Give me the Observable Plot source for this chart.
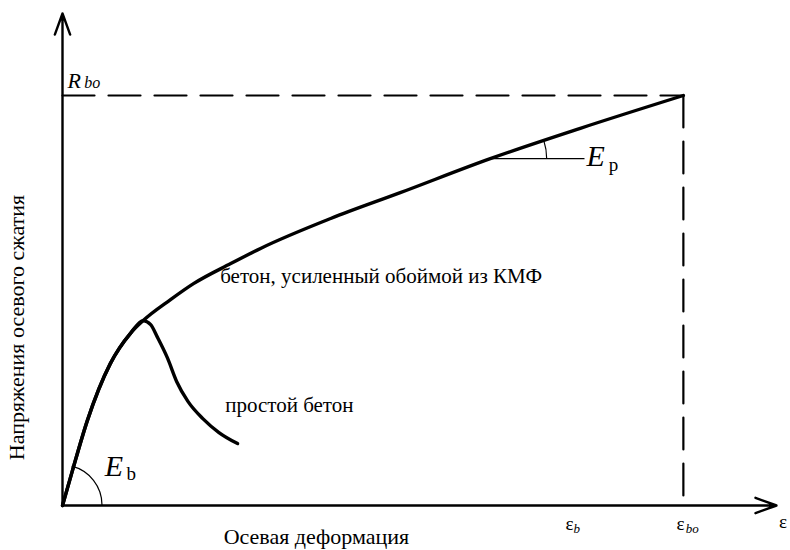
<!DOCTYPE html>
<html><head><meta charset="utf-8">
<script src="https://cdn.jsdelivr.net/npm/d3@7"></script>
<script src="https://cdn.jsdelivr.net/npm/@observablehq/plot@0.6"></script>
<style>body{margin:0;background:#fff} g[aria-label="ytitle"] text{letter-spacing:1.2px}</style>
</head><body><div id="chart"></div>
<script>
// Confined (FRP-jacketed) concrete: strain vs stress (relative units, eps_bo = 100, R_bo = 100)
const confinedStrain = [0, 1.6, 4.0, 7.7, 10.95, 13.0, 17.4, 21.1, 27.1, 31.9, 43.2, 54.4, 68.9, 83.4, 100];
const confinedStress = [0, 8.5, 20.7, 34.6, 42.0, 45.1, 50.2, 54.1, 59.0, 62.7, 70.0, 76.3, 84.6, 92.0, 100];
// Plain concrete
const plainStrain = [0, 1.6, 4.0, 7.7, 10.95, 13.0, 14.2, 15.3, 16.9, 18.4, 20.2, 22.6, 25.2, 28.2];
const plainStress = [0, 8.5, 20.7, 34.6, 42.0, 45.1, 44.1, 41.0, 36.0, 30.2, 25.4, 21.2, 17.8, 15.1];
const epsBo = 100, RBo = 100;
const epsB = 81; // position of ε_b label on strain axis
const tangentPoint = [69.2, 84.6];
const labelConfined = "бетон, усиленный обоймой из КМФ";
const labelPlain = "простой бетон";
const xTitle = "Осевая деформация";
const yTitle = "Напряжения осевого сжатия";

const confined = confinedStrain.map((x, i) => ({x, y: confinedStress[i]}));
const plain = plainStrain.map((x, i) => ({x, y: plainStress[i]}));

const serif = "Liberation Serif";

function arcMark(cx, cy, r, a0, a1) {
  return (index, scales) => {
    const X = scales.x ? scales.x : scales.scales.x;
    const Y = scales.y ? scales.y : scales.scales.y;
    const px = X(cx), py = Y(cy);
    const p = d3.path();
    p.arc(px, py, r, -a0 * Math.PI / 180, -a1 * Math.PI / 180, true);
    return d3.create("svg:path").attr("d", p.toString()).attr("fill", "none")
      .attr("stroke", "black").attr("stroke-width", 1.2).node();
  };
}
const T = (txt, o) => Plot.text([txt], {text: d => d, textAnchor: "start", lineAnchor: "bottom", fill: "black", fontFamily: serif, ...o});

const chart = Plot.plot({
  width: 790, height: 550,
  marginLeft: 62, marginRight: 14, marginTop: 13, marginBottom: 45,
  x: {domain: [0, 115], axis: null},
  y: {domain: [0, 120], axis: null},
  style: {fontFamily: serif, background: "white"},
  marks: [
    Plot.line([{x: 0, y: RBo}, {x: epsBo, y: RBo}], {x: "x", y: "y", stroke: "black", strokeWidth: 2.2, strokeDasharray: "32,14"}),
    Plot.line([{x: epsBo, y: RBo}, {x: epsBo, y: 0}], {x: "x", y: "y", stroke: "black", strokeWidth: 2.2, strokeDasharray: "32,14"}),
    Plot.arrow([{x1: 0, y1: 0, x2: 115, y2: 0}], {x1: "x1", y1: "y1", x2: "x2", y2: "y2", stroke: "black", strokeWidth: 2.4, headLength: 14, headAngle: 40}),
    Plot.arrow([{x1: 0, y1: 0, x2: 0, y2: 120}], {x1: "x1", y1: "y1", x2: "x2", y2: "y2", stroke: "black", strokeWidth: 2.4, headLength: 14, headAngle: 40}),
    Plot.line(plain, {x: "x", y: "y", curve: "monotone-x", stroke: "black", strokeWidth: 3.4}),
    Plot.line(confined, {x: "x", y: "y", curve: "monotone-x", stroke: "black", strokeWidth: 3.4}),
    Plot.line([{x: tangentPoint[0], y: tangentPoint[1]}, {x: tangentPoint[0] + 14.8, y: tangentPoint[1]}], {x: "x", y: "y", stroke: "black", strokeWidth: 1.2}),
    arcMark(tangentPoint[0], tangentPoint[1], 55, 0, 18),
    arcMark(0, 0, 40, 0, 76),
    T(labelConfined, {x: 25.4, y: 54.3, fontSize: 21}),
    T(labelPlain, {x: 26.2, y: 22.9, fontSize: 21}),
    T("R", {x: 0.8, y: 101.9, fontSize: 22, fontStyle: "italic"}),
    T("bo", {x: 3.5, y: 101.9, fontSize: 16, fontStyle: "italic"}),
    T("E", {x: 84.4, y: 82.7, fontSize: 30, fontStyle: "italic"}),
    T("p", {x: 88.0, y: 81.6, fontSize: 19}),
    T("E", {x: 6.8, y: 7.1, fontSize: 30, fontStyle: "italic"}),
    T("b", {x: 10.3, y: 6.1, fontSize: 19}),
    T("ε", {x: epsB, y: -6.0, fontSize: 19}),
    T("b", {x: epsB + 1.3, y: -6.8, fontSize: 13, fontStyle: "italic"}),
    T("ε", {x: epsBo - 1.1, y: -6.0, fontSize: 19}),
    T("bo", {x: epsBo + 0.4, y: -6.8, fontSize: 13, fontStyle: "italic"}),
    T("ε", {x: 115.4, y: -5.4, fontSize: 19}),
    T(xTitle, {x: 40.9, y: -9.4, textAnchor: "middle", fontSize: 22}),
    T(yTitle, {x: -7.4, y: 43.4, rotate: -90, textAnchor: "middle", lineAnchor: "middle", fontSize: 22, ariaLabel: "ytitle"})
  ]
});
document.getElementById("chart").append(chart);
</script>
</body></html>
